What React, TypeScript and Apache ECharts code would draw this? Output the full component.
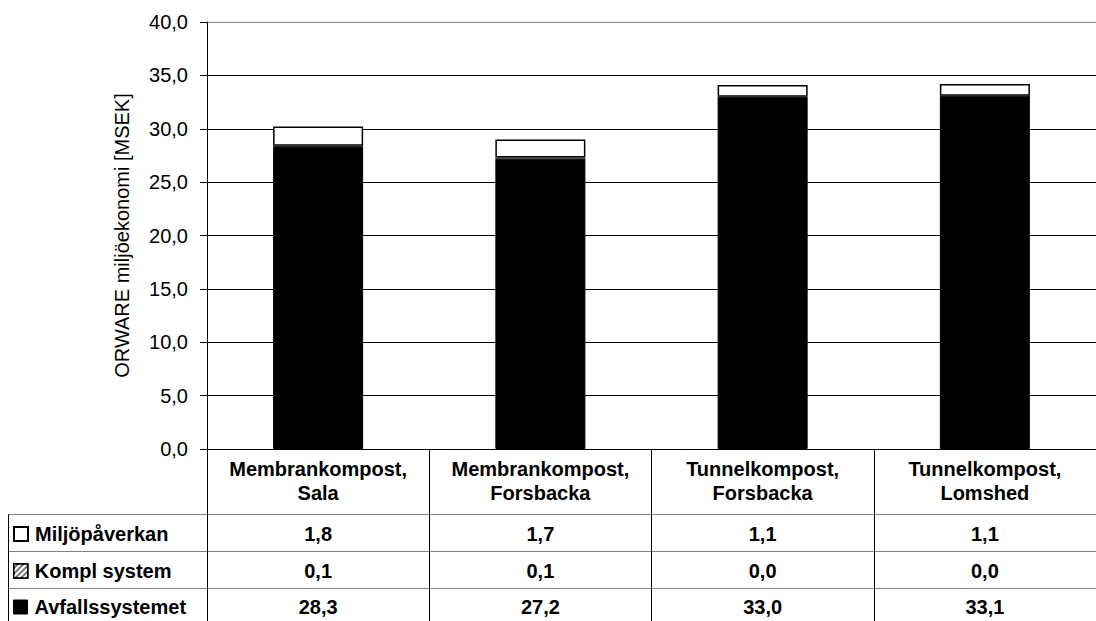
import React, { useEffect, useRef } from "react";
import * as echarts from "echarts";

const categories = [
  "Membrankompost,\nSala",
  "Membrankompost,\nForsbacka",
  "Tunnelkompost,\nForsbacka",
  "Tunnelkompost,\nLomshed",
];
const avfallssystemet = [28.3, 27.2, 33.0, 33.1];
const komplSystem = [0.1, 0.1, 0.0, 0.0];
const miljopaverkan = [1.8, 1.7, 1.1, 1.1];
const yTicks = { min: 0, max: 40, interval: 5 };

const FONT = "'Liberation Sans', Arial, Helvetica, sans-serif";
const fmt = (v: number) => v.toFixed(1).replace(".", ",");

const hatch = {
  symbol: "rect",
  symbolSize: 1,
  dashArrayX: [1, 0],
  dashArrayY: [1.5, 1.5],
  rotation: -Math.PI / 4,
  color: "#ffffff",
  backgroundColor: "#777777",
};

export default function App() {
  const ref = useRef<HTMLDivElement>(null);

  useEffect(() => {
    if (!ref.current) return;
    const chart = echarts.init(ref.current, undefined, { renderer: "svg" });

    const gridLeft = 207;
    const axisY = 449;
    // one row per series in the data table under the plot; "center" is the row's mid-line
    const tableRows = [
      { name: "Miljöpåverkan", values: miljopaverkan, center: 534 },
      { name: "Kompl system", values: komplSystem, center: 571 },
      { name: "Avfallssystemet", values: avfallssystemet, center: 607 },
    ];
    const TABLE_FONT = 20;

    const rowAxes = tableRows.map((r) => ({
      type: "category",
      gridIndex: 0,
      position: "bottom",
      offset: r.center - axisY - 8 - TABLE_FONT / 2,
      data: r.values.map(fmt),
      axisLine: { show: false },
      axisTick: { show: false },
      axisLabel: {
        interval: 0,
        margin: 8,
        color: "#000",
        fontFamily: FONT,
        fontWeight: "bold",
        fontSize: TABLE_FONT,
      },
    }));

    const legendStyles: Record<string, any> = {
      "Miljöpåverkan": { color: "#fff", borderColor: "#000", borderWidth: 2 },
      "Kompl system": { color: "#777", borderColor: "#000", borderWidth: 1.5, decal: hatch },
      "Avfallssystemet": { color: "#000", borderColor: "#000", borderWidth: 1 },
    };

    const legends = tableRows.map((r) => ({
      show: true,
      left: 13,
      top: r.center - TABLE_FONT / 2,
      padding: 0,
      orient: "vertical",
      itemWidth: 14,
      itemHeight: 14,
      icon: "rect",
      selectedMode: false,
      data: [{ name: r.name, itemStyle: legendStyles[r.name] }],
      textStyle: {
        color: "#000",
        fontFamily: FONT,
        fontWeight: "bold",
        fontSize: TABLE_FONT,
        padding: [0, 0, 0, 2],
      },
    }));

    const splitColors = ["#000", "#000", "#000", "#000", "#000", "#000", "#000", "#000", "#808080"];

    const hLine = (y: number) => ({
      type: "line",
      shape: { x1: 8, y1: y, x2: 1096, y2: y },
      style: { stroke: "#808080", lineWidth: 1 },
      silent: true,
    });

    chart.setOption({
      animation: false,
      backgroundColor: "#fff",
      textStyle: { fontFamily: FONT },
      grid: { left: gridLeft, right: -11, top: 22, bottom: 621 - axisY, containLabel: false },
      legend: legends,
      xAxis: [
        {
          type: "category",
          data: categories,
          axisLine: { show: true, lineStyle: { color: "#000", width: 1 } },
          axisTick: {
            show: true,
            interval: 0,
            length: 621 - axisY,
            lineStyle: { color: "#000", width: 1 },
          },
          axisLabel: {
            interval: 0,
            color: "#000",
            fontFamily: FONT,
            fontWeight: "bold",
            fontSize: TABLE_FONT,
            lineHeight: 24,
            margin: 8,
            align: "center",
          },
        },
        ...rowAxes,
      ],
      yAxis: {
        type: "value",
        min: yTicks.min,
        max: yTicks.max,
        interval: yTicks.interval,
        name: "ORWARE miljöekonomi [MSEK]",
        nameLocation: "middle",
        nameGap: 75,
        nameTextStyle: { color: "#000", fontFamily: FONT, fontSize: 20 },
        axisLine: { show: true, lineStyle: { color: "#000", width: 1 } },
        axisTick: { show: true, length: 7, lineStyle: { color: "#000" } },
        axisLabel: {
          color: "#000",
          fontFamily: FONT,
          fontSize: 20,
          margin: 19,
          formatter: (v: number) => fmt(v),
        },
        splitLine: { show: true, lineStyle: { color: splitColors, width: 1 } },
      },
      series: [
        {
          name: "Avfallssystemet",
          type: "bar",
          stack: "total",
          barWidth: "40.5%",
          data: avfallssystemet,
          itemStyle: { color: "#000", borderColor: "#000", borderWidth: 1 },
        },
        {
          name: "Kompl system",
          type: "bar",
          stack: "total",
          data: komplSystem,
          itemStyle: { color: "#222" },
        },
        {
          name: "Miljöpåverkan",
          type: "bar",
          stack: "total",
          data: miljopaverkan,
          itemStyle: { color: "#fff", borderColor: "#000", borderWidth: 1.5 },
        },
      ],
      graphic: [
        hLine(514.5),
        hLine(551.5),
        hLine(588.5),
        {
          type: "line",
          shape: { x1: 8.5, y1: 514.5, x2: 8.5, y2: 621 },
          style: { stroke: "#000", lineWidth: 1 },
          silent: true,
        },
      ],
    });

    return () => chart.dispose();
  }, []);

  return (
    <div
      ref={ref}
      style={{ position: "fixed", left: 0, top: 0, width: 1096, height: 621, background: "#fff" }}
    />
  );
}
